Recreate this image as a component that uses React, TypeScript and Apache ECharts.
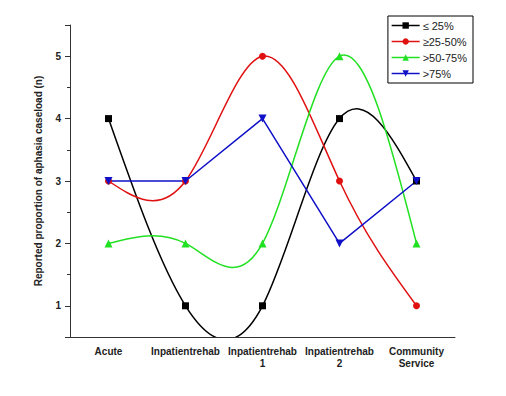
import React, { useEffect, useRef } from "react";
import * as echarts from "echarts";

const categories = ["Acute", "Inpatientrehab", "Inpatientrehab\n1", "Inpatientrehab\n2", "Community\nService"];
const seriesNames = ["≤ 25%", "≥25-50%", ">50-75%", ">75%"];
const le25 = [4, 1, 1, 4, 3];
const p25to50 = [3, 3, 5, 3, 1];
const p50to75 = [2, 2, 2, 5, 2];
const gt75 = [3, 3, 4, 2, 3];
const yTicks = [1, 2, 3, 4, 5];

// natural cubic spline slopes (unit spacing), used only to shape the drawn curve
function splineSlopes(y: number[]): number[] {
  const n = y.length - 1;
  const M = new Array(n + 1).fill(0);
  if (n >= 2) {
    const a: number[] = [], b: number[] = [], c: number[] = [], d: number[] = [];
    for (let i = 1; i < n; i++) {
      a.push(1); b.push(4); c.push(1);
      d.push(6 * (y[i + 1] - 2 * y[i] + y[i - 1]));
    }
    const m = d.length;
    for (let i = 1; i < m; i++) {
      const w = a[i] / b[i - 1];
      b[i] -= w * c[i - 1];
      d[i] -= w * d[i - 1];
    }
    const sol = new Array(m).fill(0);
    sol[m - 1] = d[m - 1] / b[m - 1];
    for (let i = m - 2; i >= 0; i--) sol[i] = (d[i] - c[i] * sol[i + 1]) / b[i];
    for (let i = 1; i < n; i++) M[i] = sol[i - 1];
  }
  const s: number[] = [];
  for (let i = 0; i < n; i++) s.push(y[i + 1] - y[i] - (2 * M[i] + M[i + 1]) / 6);
  s.push(y[n] - y[n - 1] + (M[n - 1] + 2 * M[n]) / 6);
  return s;
}

function splineSeries(ys: number[], color: string, id: string) {
  const slopes = splineSlopes(ys);
  return {
    type: "custom",
    name: id,
    z: 1,
    clip: true,
    data: ys.map((v, i) => [i, v]),
    encode: { x: 0, y: 1 },
    renderItem: (params: any, api: any) => {
      const i = params.dataIndex;
      if (i >= ys.length - 1) return { type: "group", children: [] };
      const p0 = api.coord([i, ys[i]]);
      const p1 = api.coord([i + 1, ys[i + 1]]);
      const dx = (p1[0] - p0[0]) / 3;
      const c1y = api.coord([i, ys[i] + slopes[i] / 3])[1];
      const c2y = api.coord([i + 1, ys[i + 1] - slopes[i + 1] / 3])[1];
      return {
        type: "bezierCurve",
        shape: {
          x1: p0[0], y1: p0[1], x2: p1[0], y2: p1[1],
          cpx1: p0[0] + dx, cpy1: c1y, cpx2: p1[0] - dx, cpy2: c2y,
        },
        style: { stroke: color, lineWidth: 1.5, fill: null },
      };
    },
  };
}

export default function App() {
  const ref = useRef<HTMLDivElement>(null);
  useEffect(() => {
    if (!ref.current) return;
    const chart = echarts.init(ref.current, null, { renderer: "svg" });
    const font = "Liberation Sans, Arial, sans-serif";
    const axisLineStyle = { color: "#333", width: 1 };
    const colors = ["#000000", "#e01010", "#22e022", "#1010c8"];
    chart.setOption({
      animation: false,
      backgroundColor: "#fff",
      textStyle: { fontFamily: font },
      grid: { left: 70, right: 51, top: 25, bottom: 59 },
      legend: {
        orient: "vertical",
        right: 33,
        top: 16,
        data: seriesNames.map((n, i) => ({
          name: n,
          lineStyle: { color: colors[i], width: 1.5, opacity: 1 },
        })),
        itemWidth: 28,
        itemHeight: 8,
        itemGap: 5,
        padding: [4, 6, 4, 3],
        borderColor: "#000",
        borderWidth: 1,
        textStyle: { fontSize: 11, color: "#222", fontFamily: font, padding: [0, 0, 0, -2] },
      },
      xAxis: [
        {
          type: "category",
          data: categories,
          boundaryGap: true,
          axisLine: { lineStyle: axisLineStyle },
          axisTick: { alignWithLabel: true, length: 5, lineStyle: axisLineStyle },
          axisLabel: { fontSize: 10, fontWeight: "bold", color: "#222", margin: 8, lineHeight: 12, interval: 0 },
          splitLine: { show: false },
        },
        {
          type: "category",
          data: categories,
          boundaryGap: true,
          position: "bottom",
          axisLine: { show: false },
          axisTick: { length: 3, lineStyle: axisLineStyle },
          axisLabel: { show: false },
          splitLine: { show: false },
        },
      ],
      yAxis: [
        {
          type: "value",
          min: 0.5,
          max: 5.5,
          interval: 0.5,
          name: "Reported proportion of aphasia caseload (n)",
          nameLocation: "middle",
          nameGap: 27,
          nameTextStyle: { fontSize: 10, fontWeight: "bold", color: "#222" },
          axisLine: { show: true, lineStyle: axisLineStyle },
          axisTick: { show: true, length: 3, lineStyle: axisLineStyle },
          axisLabel: {
            fontSize: 10,
            fontWeight: "bold",
            color: "#222",
            margin: 9,
            formatter: (v: number) => (yTicks.indexOf(v) >= 0 ? String(v) : ""),
          },
          splitLine: { show: false },
        },
        {
          type: "value",
          min: 0.5,
          max: 5.5,
          splitNumber: 5,
          position: "left",
          axisLine: { show: false },
          axisTick: { show: true, length: 5, lineStyle: axisLineStyle },
          axisLabel: { show: false },
          splitLine: { show: false },
        },
      ],
      series: [
        splineSeries(le25, colors[0], "spline-le25"),
        splineSeries(p25to50, colors[1], "spline-25-50"),
        splineSeries(p50to75, colors[2], "spline-50-75"),
        {
          name: seriesNames[0],
          type: "line",
          data: le25,
          symbol: "rect",
          symbolSize: 7,
          color: colors[0],
          lineStyle: { width: 1.5, color: colors[0], opacity: 0 },
        },
        {
          name: seriesNames[1],
          type: "line",
          data: p25to50,
          symbol: "circle",
          symbolSize: 7,
          color: colors[1],
          lineStyle: { width: 1.5, color: colors[1], opacity: 0 },
        },
        {
          name: seriesNames[2],
          type: "line",
          data: p50to75,
          symbol: "triangle",
          symbolSize: 8,
          color: colors[2],
          lineStyle: { width: 1.5, color: colors[2], opacity: 0 },
        },
        {
          name: seriesNames[3],
          type: "line",
          data: gt75,
          smooth: false,
          symbol: "triangle",
          symbolRotate: 180,
          symbolSize: 8,
          color: colors[3],
          lineStyle: { width: 1.5, color: colors[3] },
        },
      ],
    });
    return () => chart.dispose();
  }, []);
  return (
    <div
      ref={ref}
      style={{ position: "fixed", left: 0, top: 0, width: 506, height: 396, background: "#fff" }}
    />
  );
}
